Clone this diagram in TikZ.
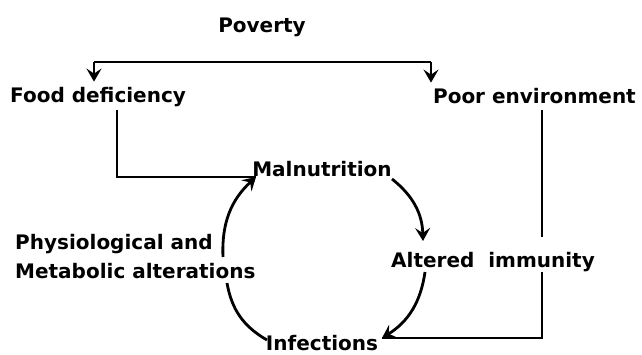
\documentclass[tikz,border=0pt]{standalone}
\usepackage{fontspec}
\setmainfont{DejaVu Sans}
\usetikzlibrary{arrows.meta}
\begin{document}
\begin{tikzpicture}[x=1pt,y=-1pt,
  lbl/.style={font=\bfseries\fontsize{20}{22}\selectfont, inner sep=0pt, anchor=base},
  ln/.style={line width=2.8pt},
  arr/.style={ln, -{Stealth[length=13pt,width=15pt,inset=5pt]}}]
\useasboundingbox[fill=white] (0,0) rectangle (642,355);
\node[lbl] (pov) at (262,33) {Poverty};
\node[lbl, anchor=base west] (food) at (10,103) {Food deficiency};
\node[lbl, anchor=base east] (env) at (636,104) {Poor environment};
\node[lbl] (mal) at (322,177) {Malnutrition};
\node[lbl] (imm) at (493,268) {Altered\ \ immunity};
\node[lbl, anchor=base west] (phys1) at (15,250) {Physiological and};
\node[lbl, anchor=base west] (phys2) at (15,278) {Metabolic alterations};
\node[lbl] (inf) at (322,350) {Infections};
% connectors
\coordinate (tl) at (94,62);
\coordinate (tr) at (431,62);
\draw[ln] (tl) -- (tr);
\draw[arr] (tl) -- ([yshift=6pt]tl |- food.north);
\draw[arr] (tr) -- ([yshift=6pt]tr |- env.north);
\coordinate (fx) at (117,110);
\coordinate (mj) at (256,177);
\draw[ln] (fx) |- (mj);
\coordinate (ex) at (542,110);
\coordinate (e1) at (542,237);
\coordinate (e2) at (542,272);
\coordinate (ij) at (382,338);
\draw[ln] (ex) -- (e1);
\draw[ln] (e2) |- (ij);
\coordinate (a1s) at (223,257);
\draw[arr] (a1s) to[bend left=25] (mj);
\coordinate (a2s) at (392,179);
\coordinate (a2e) at (423,241);
\draw[arr] (a2s) to[bend left=25] (a2e);
\coordinate (a3s) at (425,272);
\draw[arr] (a3s) to[bend left=25] (ij);
\coordinate (a4s) at (227,283);
\coordinate (a4e) at (267,340);
\draw[ln] (a4s) to[bend right=25] (a4e);
\end{tikzpicture}
\end{document}
